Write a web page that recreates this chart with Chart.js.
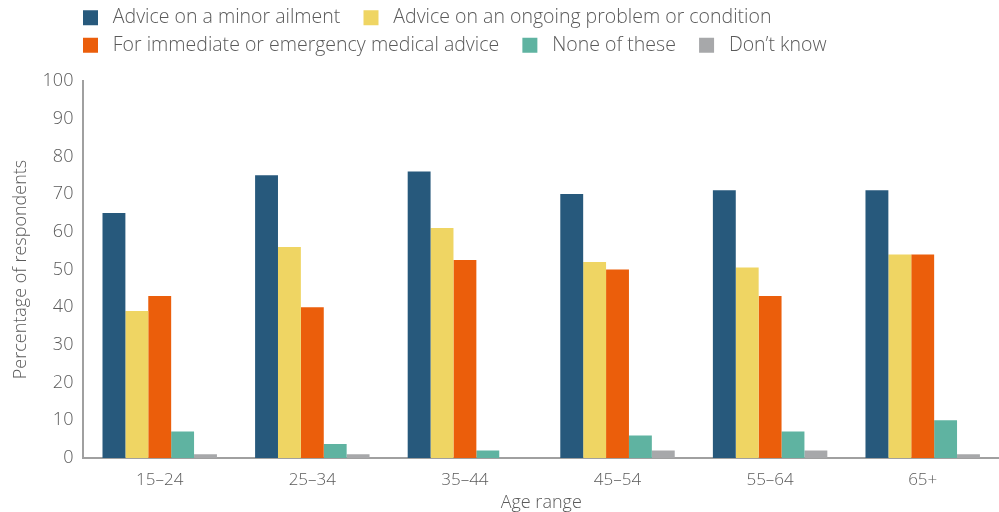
<!DOCTYPE html>
<html>
<head>
<meta charset="utf-8">
<script src="https://cdn.jsdelivr.net/npm/chart.js@4"></script>
<style>
 html, body { margin: 0; padding: 0; background: #fff; }
 #wrap { width: 999px; height: 512px; }
</style>
</head>
<body>
<div id="wrap"><canvas id="chart" width="999" height="512"></canvas></div>
<script>
// values
const categories = ["15–24", "25–34", "35–44", "45–54", "55–64", "65+"];
const minorAilment = [65, 75, 76, 70, 71, 71];
const ongoingProblem = [39, 56, 61, 52, 50.5, 54];
const emergencyAdvice = [43, 40, 52.5, 50, 43, 54];
const noneOfThese = [7, 3.7, 2, 6, 7, 10];
const dontKnow = [1, 1, 0, 2, 2, 1];
const yTicks = [0, 10, 20, 30, 40, 50, 60, 70, 80, 90, 100];

const textColor = "#5a5a5a";
const axisColor = "#a0a0a0";
const font = "'Open Sans', 'Noto Sans', sans-serif";

Chart.defaults.font.family = font;
Chart.defaults.font.weight = 300;
Chart.defaults.color = textColor;

// legend: start rows over the y axis and leave room below it
const legendShift = {
 id: "legendShift",
 beforeInit(chart) {
  const fit = chart.legend.fit;
  chart.legend.fit = function () {
   fit.call(this);
   this.height += 16;
  };
 },
 afterLayout(chart) {
  if (chart.legend) chart.legend.left = 75;
 },
};

const ctx = document.getElementById("chart").getContext("2d");

new Chart(ctx, {
 type: "bar",
 plugins: [legendShift],
 data: {
  labels: categories,
  datasets: [
   { label: "Advice on a minor ailment", data: minorAilment, backgroundColor: "#27597c" },
   { label: "Advice on an ongoing problem or condition", data: ongoingProblem, backgroundColor: "#efd563" },
   { label: "For immediate or emergency medical advice", data: emergencyAdvice, backgroundColor: "#eb5e0b" },
   { label: "None of these", data: noneOfThese, backgroundColor: "#5fb3a1" },
   { label: "Don’t know", data: dontKnow, backgroundColor: "#a7a8aa" },
  ],
 },
 options: {
  responsive: false,
  animation: false,
  layout: { padding: { left: 10, right: 0, top: 0, bottom: 0 } },
  datasets: {
   bar: { categoryPercentage: 0.75, barPercentage: 1.0, borderWidth: 0 },
  },
  scales: {
   x: {
    grid: { display: false, drawTicks: false },
    border: { color: axisColor, width: 2 },
    ticks: { padding: 12, font: { size: 17 }, color: textColor },
    title: { display: true, text: "Age range", font: { size: 18 }, color: textColor, padding: { top: -10, bottom: -2 } },
   },
   y: {
    min: 0,
    max: 100,
    afterBuildTicks: (axis) => { axis.ticks = yTicks.map((v) => ({ value: v })); },
    grid: { display: false, drawTicks: false },
    border: { color: axisColor, width: 2 },
    ticks: { padding: 10, font: { size: 18 }, color: textColor },
    title: { display: true, text: "Percentage of respondents", font: { size: 18 }, color: textColor, padding: { top: 0, bottom: 1 } },
   },
  },
  plugins: {
   legend: {
    position: "top",
    align: "start",
    labels: {
     boxWidth: 15,
     boxHeight: 15,
     padding: 8,
     font: { size: 19.5 },
     color: textColor,
     // a little more room around each label text, as in the original
     generateLabels(chart) {
      const items = Chart.defaults.plugins.legend.labels.generateLabels(chart);
      items.forEach((item) => { item.text = " " + item.text + "   "; });
      return items;
     },
    },
   },
   tooltip: { enabled: false },
  },
 },
});
</script>
</body>
</html>
